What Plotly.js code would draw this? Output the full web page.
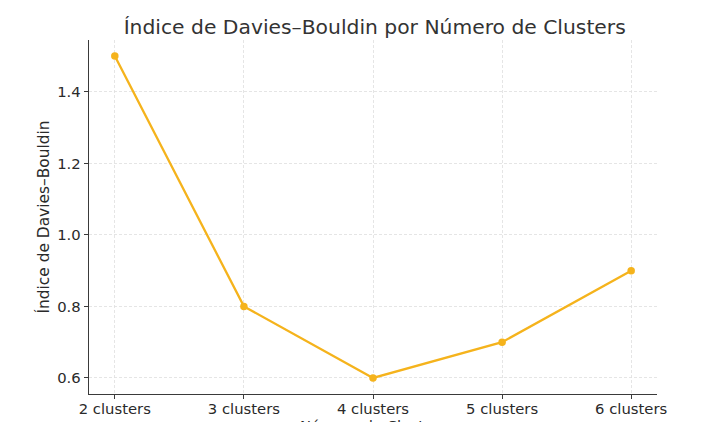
<!DOCTYPE html>
<html>
<head>
<meta charset="utf-8">
<script src="https://cdn.plot.ly/plotly-3.0.1.min.js"></script>
<style>html,body{margin:0;padding:0;background:#fff;}</style>
</head>
<body>
<div id="chart" style="width:707px;height:422px;"></div>
<script>
const categories = ["2 clusters", "3 clusters", "4 clusters", "5 clusters", "6 clusters"];
const dbIndex = [1.5, 0.8, 0.6, 0.7, 0.9];
const yTicks = [0.6, 0.8, 1.0, 1.2, 1.4];
const xTitle = "Número de Clusters";
const yTitle = "Índice de Davies–Bouldin";
const chartTitle = "Índice de Davies–Bouldin por Número de Clusters";

const trace = {
  x: categories,
  y: dbIndex,
  type: "scatter",
  mode: "lines+markers",
  line: {color: "#f5b31c", width: 2.3},
  marker: {color: "#f5b31c", size: 7.5},
  hoverinfo: "skip"
};

const layout = {
  width: 707, height: 422,
  margin: {l: 89, r: 50, t: 40, b: 28},
  paper_bgcolor: "#ffffff",
  plot_bgcolor: "#ffffff",
  font: {family: "DejaVu Sans, sans-serif", color: "#2a2a2a"},
  showlegend: false,
  title: {
    text: chartTitle,
    font: {size: 20.3, color: "#333"},
    x: 0.53, xanchor: "center", y: 0.937, yanchor: "middle"
  },
  xaxis: {
    type: "category",
    range: [-0.2, 4.2],
    showline: true, linecolor: "#3a3a3a", linewidth: 1.3,
    ticks: "outside", ticklen: 4, tickcolor: "#3a3a3a",
    ticklabelstandoff: -3,
    showgrid: true, gridcolor: "#dedede", griddash: "3px,2px", gridwidth: 0.8,
    zeroline: false,
    tickfont: {size: 14.8, color: "#2a2a2a"},
    automargin: false
  },
  yaxis: {
    range: [0.555, 1.545],
    tickvals: yTicks,
    ticktext: yTicks.map(v => v.toFixed(1)),
    showline: true, linecolor: "#3a3a3a", linewidth: 1.3,
    ticks: "outside", ticklen: 4, tickcolor: "#3a3a3a",
    showgrid: true, gridcolor: "#dedede", griddash: "3px,2px", gridwidth: 0.8,
    zeroline: false,
    tickfont: {size: 14.8, color: "#2a2a2a"},
    title: {text: yTitle, font: {size: 15.4, color: "#2a2a2a"}, standoff: 3},
    automargin: true
  },
  annotations: [{
    text: xTitle,
    xref: "paper", yref: "paper",
    x: 0.5, y: 0, yshift: -21,
    xanchor: "center", yanchor: "top",
    showarrow: false,
    font: {size: 14.8, color: "#2a2a2a"}
  }]
};

Plotly.newPlot("chart", [trace], layout, {displayModeBar: false, staticPlot: true});
</script>
</body>
</html>
